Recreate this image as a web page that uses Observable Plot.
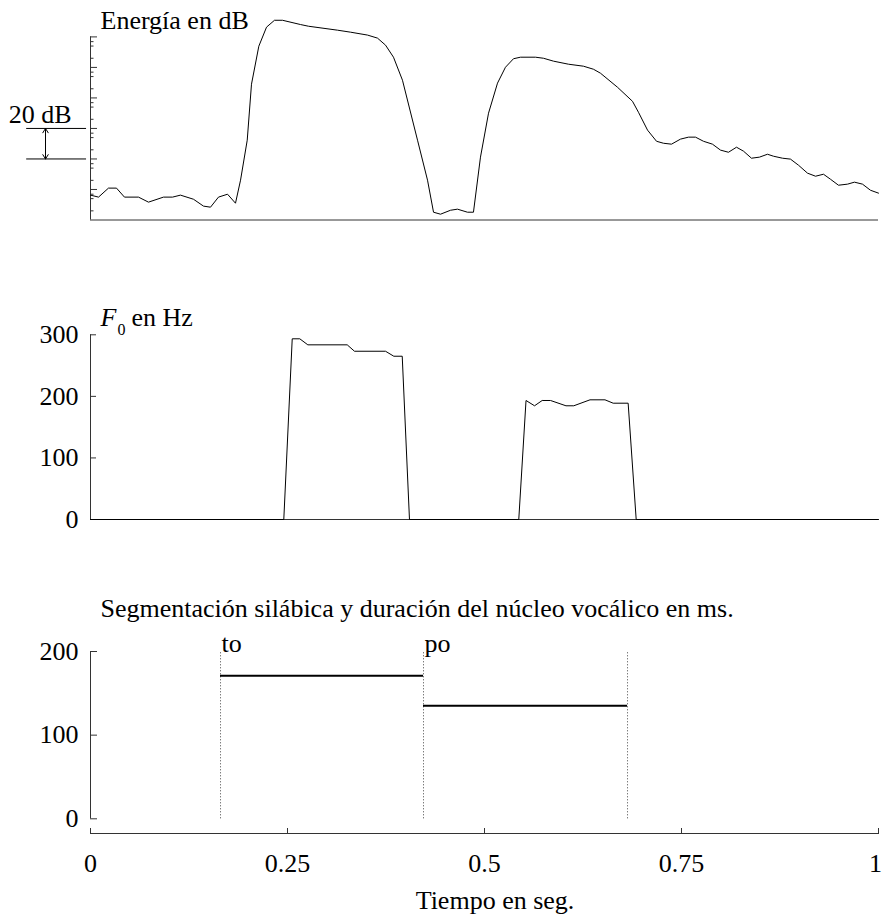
<!DOCTYPE html>
<html>
<head>
<meta charset="utf-8">
<script src="https://cdn.jsdelivr.net/npm/d3@7"></script>
<script src="https://cdn.jsdelivr.net/npm/@observablehq/plot@0.6"></script>
<style>
  body { margin: 0; background: #fff; }
  #chart svg { display: block; }
</style>
</head>
<body>
<div id="chart"></div>
<script>
// ---------- data ----------
const energyTime = [0, 0.0102, 0.0228, 0.0330, 0.0431, 0.0609, 0.0736, 0.0926, 0.1041, 0.1142,
  0.1307, 0.1434, 0.1523, 0.1624, 0.1739, 0.1840, 0.1904, 0.1989, 0.2043, 0.2136,
  0.2234, 0.2335, 0.2437, 0.2665, 0.2766, 0.3135, 0.3299, 0.3515, 0.3642, 0.3744,
  0.3845, 0.3959, 0.4150, 0.4277, 0.4353, 0.4442, 0.4569, 0.4657, 0.4784, 0.4860,
  0.4949, 0.5051, 0.5165, 0.5266, 0.5368, 0.5457, 0.5647, 0.5749, 0.5876, 0.6066,
  0.6256, 0.6383, 0.6472, 0.6688, 0.6878, 0.6954, 0.7069, 0.7183, 0.7272, 0.7373,
  0.7487, 0.7589, 0.7678, 0.7779, 0.7893, 0.7995, 0.8096, 0.8198, 0.8287, 0.8388,
  0.8490, 0.8591, 0.8668, 0.8782, 0.8883, 0.8985, 0.9099, 0.9201, 0.9302, 0.9391,
  0.9492, 0.9607, 0.9695, 0.9797, 0.9898, 1.0];
const energyDb = [-3.7, -5.0, 0.9, 0.9, -5.0, -5.0, -8.3, -5.0, -5.0, -3.7,
  -6.4, -10.9, -11.6, -5.0, -3.1, -9.0, 6.1, 32.3, 69.0, 93.9,
  106.4, 110.9, 110.9, 108.1, 107.0, 104.4, 103.1, 101.2, 99.2, 94.6,
  86.7, 71.6, 32.3, 6.1, -14.9, -16.2, -13.6, -12.9, -14.9, -14.9,
  21.2, 50.0, 69.7, 80.1, 85.7, 86.7, 86.7, 86.0, 84.1, 82.1,
  80.8, 78.8, 76.2, 67.0, 57.8, 50.6, 38.9, 31.6, 30.3, 29.7,
  33.0, 34.3, 34.3, 31.6, 29.7, 25.8, 24.4, 27.7, 25.1, 20.5,
  21.2, 23.1, 21.8, 20.5, 19.9, 15.9, 10.7, 8.7, 10.0, 6.7,
  2.8, 3.5, 4.8, 3.5, -0.5, -2.4];

const f0Time = [0, 0.2453, 0.2560, 0.2656, 0.2758, 0.3258, 0.3350, 0.3744, 0.3849, 0.3956, 0.4048,
  0.5435, 0.5527, 0.5635, 0.5732, 0.5838, 0.6034, 0.6133, 0.6339, 0.6529, 0.6633, 0.6823, 0.6925, 1.0];
const f0Hz = [0, 0, 293.5, 293.5, 283.7, 283.7, 273.3, 273.3, 265.2, 265.2, 0,
  0, 193.3, 184.7, 193.3, 193.3, 184.7, 184.7, 194.4, 194.4, 188.9, 188.9, 0, 0];

const syllables = ["to", "po"];
const syllableStart = [0.165, 0.4226];
const syllableEnd = [0.4226, 0.6815];
const nucleusMs = [171, 135];
const boundaries = [0.165, 0.4226, 0.6815];

const timeTicks = [0, 0.25, 0.5, 0.75, 1];
const timeTickLabels = ["0", "0.25", "0.5", "0.75", "1"];
const dbMajorTicks = [0, 20, 40, 60, 80, 100];
const dbMinorBelow = [3.1, 6.0, 14.0];   // amplitude 7, 5, 2 within each 20 dB decade
const dbDomain = [-20, 100];
const f0Ticks = [0, 100, 200, 300];
const f0Domain = [0, 300];
const durTicks = [0, 100, 200];
const durDomain = [0, 200];
const scaleBarDb = [20, 40];

// ---------- tables ----------
const energy = energyTime.map((t, i) => ({t, db: energyDb[i]}));
const f0 = f0Time.map((t, i) => ({t, hz: f0Hz[i]}));
const segments = syllables.map((s, i) => ({syl: s, start: syllableStart[i], end: syllableEnd[i], ms: nucleusMs[i]}));
const dbMinorTicks = dbMajorTicks.flatMap(m => dbMinorBelow.map(o => m - o));
const barMid = (scaleBarDb[0] + scaleBarDb[1]) / 2;
const tickLabel = d => timeTickLabels[timeTicks.indexOf(d)];
const innerTimeTicks = timeTicks.slice(0, -1);
const lastTimeTick = timeTicks.slice(-1);

const ink = "#000";
const axisInk = "#333";
const serif = '"Liberation Serif", "Times New Roman", serif';
const style = {
  fontFamily: serif,
  fontSize: "26px",
  background: "white",
  color: ink,
  overflow: "visible"
};
const W = 883;
const common = {width: W, marginLeft: 90, marginRight: 5, style};

// ---------- panel 1: energy ----------
const p1 = Plot.plot({
  ...common,
  height: 250, marginTop: 36.4, marginBottom: 30.5,
  x: {domain: [0, 1], axis: null},
  y: {domain: dbDomain},
  marks: [
    Plot.ruleX([0], {y1: dbDomain[0], y2: dbDomain[1], stroke: axisInk}),
    Plot.ruleY([dbDomain[0]], {stroke: axisInk}),
    Plot.axisY(dbMajorTicks, {tickSize: -7, tickFormat: () => "", label: null, stroke: axisInk}),
    Plot.axisY(dbMinorTicks, {tickSize: -3.5, tickFormat: () => "", label: null, stroke: axisInk}),
    Plot.ruleY(scaleBarDb, {x1: -0.081, x2: -0.005, stroke: ink}),
    Plot.arrow([{a: barMid, b: scaleBarDb[1]}, {a: barMid, b: scaleBarDb[0]}],
      {x1: 0, x2: 0, y1: "a", y2: "b", dx: -45, headLength: 9, headAngle: 64, stroke: ink, strokeWidth: 1}),
    Plot.text(["20 dB"], {text: d => d, x: 0, y: scaleBarDb[1], dx: -19, dy: -5,
      textAnchor: "end", lineAnchor: "bottom", fill: ink, fontFamily: serif}),
    Plot.text(["Energía en dB"], {text: d => d, frameAnchor: "top-left", dx: 10, dy: -8.4,
      textAnchor: "start", lineAnchor: "bottom", fill: ink, fontFamily: serif}),
    Plot.line(energy, {x: "t", y: "db", stroke: ink, strokeWidth: 1})
  ]
});

// ---------- panel 2: F0 ----------
const p2 = Plot.plot({
  ...common,
  height: 310, marginTop: 84.3, marginBottom: 41,
  x: {domain: [0, 1], axis: null},
  y: {domain: f0Domain},
  marks: [
    Plot.ruleX([0], {y1: f0Domain[0], y2: f0Domain[1], stroke: axisInk}),
    Plot.ruleY([0], {stroke: axisInk}),
    Plot.axisY(f0Ticks, {tickSize: -6, tickPadding: 18, label: null, stroke: axisInk, fill: ink}),
    Plot.text(["F"], {text: d => d, frameAnchor: "top-left", dx: 10, dy: -8.6,
      textAnchor: "start", lineAnchor: "bottom", fontStyle: "italic", fill: ink, fontFamily: serif}),
    Plot.text(["0"], {text: d => d, frameAnchor: "top-left", dx: 27, dy: 0,
      textAnchor: "start", lineAnchor: "bottom", fontSize: 16, fill: ink, fontFamily: serif}),
    Plot.text(["en Hz"], {text: d => d, frameAnchor: "top-left", dx: 41, dy: -8.6,
      textAnchor: "start", lineAnchor: "bottom", fill: ink, fontFamily: serif}),
    Plot.line(f0, {x: "t", y: "hz", stroke: ink, strokeWidth: 1})
  ]
});

// ---------- panel 3: segmentation ----------
const p3 = Plot.plot({
  ...common,
  height: 357, marginTop: 91, marginBottom: 84,
  x: {domain: [0, 1]},
  y: {domain: durDomain, insetBottom: 14.7},
  marks: [
    Plot.ruleX([0], {y1: durDomain[0], y2: durDomain[1], stroke: axisInk}),
    Plot.frame({anchor: "bottom", stroke: axisInk}),
    Plot.axisX(timeTicks, {tickSize: -5, tickFormat: () => "", label: null, stroke: axisInk}),
    Plot.axisX(innerTimeTicks, {tickSize: 0, tickPadding: 20, label: null, fill: ink, tickFormat: tickLabel}),
    Plot.axisX(lastTimeTick, {tickSize: 0, tickPadding: 20, dx: -3, label: null, fill: ink, tickFormat: tickLabel}),
    Plot.axisY(durTicks, {tickSize: -7, tickPadding: 19, label: null, stroke: axisInk, fill: ink}),
    Plot.ruleX(boundaries, {y1: durDomain[0], y2: durDomain[1], stroke: "#444", strokeDasharray: "1,2"}),
    Plot.ruleY(segments, {x1: "start", x2: "end", y: "ms", stroke: ink, strokeWidth: 2}),
    Plot.text(segments, {x: "start", y: durDomain[1], text: "syl", dx: 1,
      textAnchor: "start", lineAnchor: "bottom", fill: ink, fontFamily: serif}),
    Plot.text(["Segmentación silábica y duración del núcleo vocálico en ms."], {text: d => d,
      frameAnchor: "top-left", dx: 10, dy: -34.3, textAnchor: "start", lineAnchor: "bottom", fill: ink, fontFamily: serif}),
    Plot.text(["Tiempo en seg."], {text: d => d, frameAnchor: "bottom", dx: 10.5, dy: 75.3,
      lineAnchor: "bottom", fill: ink, fontFamily: serif})
  ]
});

const chart = document.getElementById("chart");
chart.append(p1, p2, p3);
</script>
</body>
</html>
